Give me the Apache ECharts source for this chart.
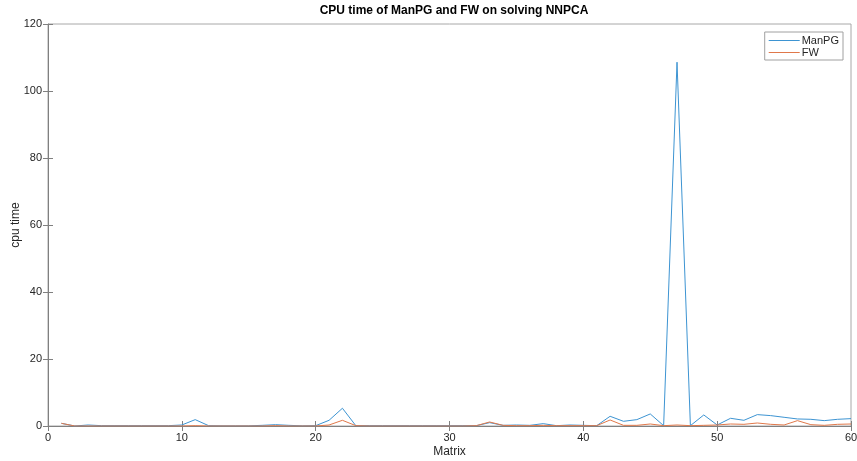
<!DOCTYPE html>
<html>
<head>
<meta charset="utf-8">
<script src="https://cdn.jsdelivr.net/npm/echarts@6/dist/echarts.min.js"></script>
<style>
  html, body { margin: 0; padding: 0; background: #fff; }
  #chart { width: 857px; height: 461px; }
</style>
</head>
<body>
<div id="chart"></div>
<script>
// matrix index 1..60
var matrixIdx = [];
for (var i = 1; i <= 60; i++) matrixIdx.push(i);

var manpgTime = [
  0.8, 0.0, 0.3, 0.1, 0.1, 0.1, 0.1, 0.1, 0.1, 0.3,
  1.9, 0.1, 0.05, 0.05, 0.05, 0.2, 0.4, 0.2, 0.05, 0.1,
  1.7, 5.3, 0.1, 0.1, 0.1, 0.1, 0.1, 0.1, 0.1, 0.1,
  0.1, 0.1, 1.0, 0.2, 0.3, 0.2, 0.7, 0.1, 0.3, 0.2,
  0.1, 2.9, 1.4, 1.9, 3.6, 0.1, 108.6, 0.1, 3.3, 0.3,
  2.3, 1.7, 3.4, 3.1, 2.6, 2.1, 2.0, 1.6, 2.0, 2.2
];
var fwTime = [
  0.8, 0.0, 0.0, 0.0, 0.0, 0.0, 0.0, 0.0, 0.0, 0.0,
  0.1, 0.0, 0.0, 0.0, 0.0, 0.0, 0.1, 0.0, 0.0, 0.0,
  0.3, 1.7, 0.1, 0.0, 0.0, 0.0, 0.0, 0.0, 0.0, 0.0,
  0.0, 0.1, 1.2, 0.2, 0.1, 0.1, 0.2, 0.1, 0.1, 0.1,
  0.1, 1.8, 0.2, 0.2, 0.6, 0.1, 0.3, 0.1, 0.2, 0.3,
  0.6, 0.5, 0.9, 0.5, 0.3, 1.6, 0.4, 0.2, 0.5, 0.6
];

var xTicks = { min: 0, max: 60, interval: 10 };
var yTicks = { min: 0, max: 120, interval: 20 };

function pairs (ys) {
  return matrixIdx.map(function (x, k) { return [x, ys[k]]; });
}

var chart = echarts.init(document.getElementById('chart'));
var font = 'Liberation Sans, Arial, sans-serif';
var axisCommon = {
  axisLine: { show: true, lineStyle: { color: '#808080', width: 1 } },
  axisTick: { show: true, inside: true, length: 5, lineStyle: { color: '#808080' } },
  splitLine: { show: false },
  axisLabel: { color: '#262626', fontSize: 11, fontFamily: font, margin: 6 }
};

var options = {
  animation: false,
  title: {
    text: 'CPU time of ManPG and FW on solving NNPCA',
    left: 449, textAlign: 'center', top: 0,
    textStyle: { fontSize: 12, fontWeight: 'bold', color: '#000', fontFamily: font }
  },
  grid: {
    left: 48, right: 6, top: 24, bottom: 35,
    outerBoundsMode: 'none', containLabel: false,
    show: true, borderColor: '#a8a8a8', borderWidth: 1, backgroundColor: '#fff'
  },
  legend: {
    data: ['ManPG', 'FW'],
    orient: 'vertical',
    right: 14, top: 32,
    padding: [3, 4, 2, 4],
    itemGap: 1,
    itemWidth: 31, itemHeight: 1,
    icon: 'rect',
    backgroundColor: '#fff',
    borderColor: '#a0a0a0', borderWidth: 1, borderRadius: 0,
    textStyle: { color: '#262626', fontSize: 11, fontFamily: font, padding: [0, 0, 0, -3] }
  },
  xAxis: [
    Object.assign({
      type: 'value', min: xTicks.min, max: xTicks.max, interval: xTicks.interval,
      name: 'Matrix', nameLocation: 'middle', nameGap: 20, nameMoveOverlap: false,
      nameTextStyle: { color: '#262626', fontSize: 12, fontFamily: font }
    }, axisCommon),
    Object.assign({}, axisCommon, {
      type: 'value', position: 'top', min: xTicks.min, max: xTicks.max, interval: xTicks.interval,
      axisLabel: { show: false }, axisLine: { show: false }
    })
  ],
  yAxis: [
    Object.assign({
      type: 'value', min: yTicks.min, max: yTicks.max, interval: yTicks.interval,
      name: 'cpu time', nameLocation: 'middle', nameGap: 26, nameMoveOverlap: false,
      nameTextStyle: { color: '#262626', fontSize: 12, fontFamily: font }
    }, axisCommon),
    Object.assign({}, axisCommon, {
      type: 'value', position: 'right', min: yTicks.min, max: yTicks.max, interval: yTicks.interval,
      axisLabel: { show: false }, axisLine: { show: false }
    })
  ],
  series: [
    {
      name: 'ManPG', type: 'line', symbol: 'none',
      lineStyle: { color: '#3d94d2', width: 1 }, itemStyle: { color: '#3d94d2' },
      data: pairs(manpgTime)
    },
    {
      name: 'FW', type: 'line', symbol: 'none',
      lineStyle: { color: '#e0784a', width: 1 }, itemStyle: { color: '#e0784a' },
      data: pairs(fwTime)
    }
  ]
};
chart.setOption(options);
</script>
</body>
</html>
